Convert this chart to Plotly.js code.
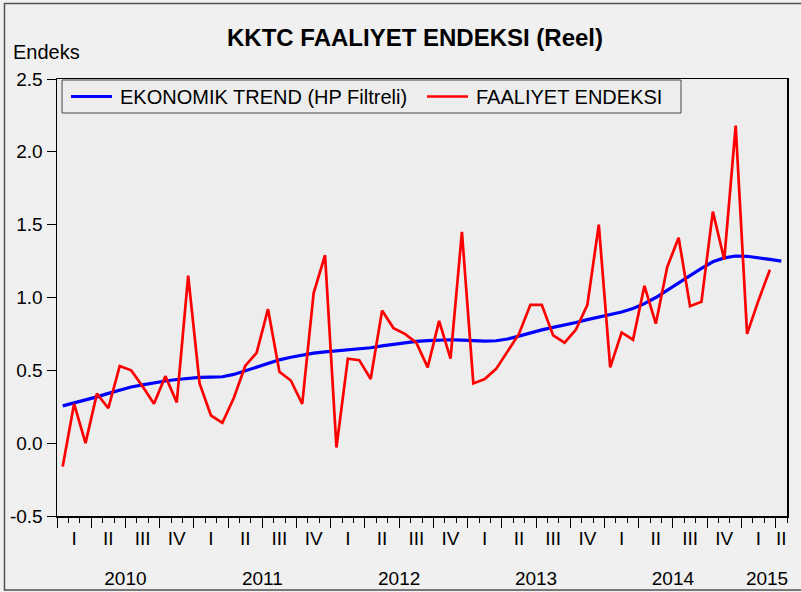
<!DOCTYPE html>
<html>
<head>
<meta charset="utf-8">
<script src="https://cdn.plot.ly/plotly-3.0.1.min.js"></script>
<style>
html,body{margin:0;padding:0;background:#f0f0f0;}
#chart{width:801px;height:592px;}
</style>
</head>
<body>
<div id="chart"></div>
<script>
// Monthly observations, Jan 2010 (index 0) ...
const monthIndex = Array.from({length: 64}, (_, i) => i);

const faaliyetEndeksi = [
  -0.16, 0.27, 0.00, 0.34, 0.24, 0.53, 0.50, 0.39, 0.27, 0.46, 0.28, 1.15,
   0.41, 0.19, 0.14, 0.31, 0.53, 0.62, 0.92, 0.49, 0.43, 0.27, 1.03, 1.29,
  -0.03, 0.58, 0.57, 0.44, 0.91, 0.79, 0.75, 0.69, 0.52, 0.84, 0.58, 1.45,
   0.41, 0.44, 0.51, 0.63, 0.75, 0.95, 0.95, 0.74, 0.69, 0.78, 0.95, 1.50,
   0.52, 0.76, 0.71, 1.08, 0.82, 1.21, 1.41, 0.94, 0.97, 1.59, 1.26, 2.18,
   0.75, 0.98, 1.19
];

const ekonomikTrend = [
  0.256, 0.275, 0.296, 0.318, 0.342, 0.365, 0.386, 0.400, 0.415, 0.427, 0.437, 0.446,
  0.451, 0.453, 0.456, 0.472, 0.498, 0.525, 0.550, 0.572, 0.590, 0.606, 0.618, 0.627,
  0.633, 0.638, 0.644, 0.655, 0.668, 0.680, 0.691, 0.699, 0.704, 0.708, 0.710, 0.708,
  0.703, 0.700, 0.703, 0.715, 0.735, 0.757, 0.778, 0.795, 0.810, 0.828, 0.848, 0.867,
  0.882, 0.900, 0.925, 0.958, 1.000, 1.048, 1.100, 1.150, 1.200, 1.245, 1.272, 1.285,
  1.283, 1.274, 1.262, 1.250
];

const seriesNames = ['EKONOMIK TREND (HP Filtreli)', 'FAALIYET ENDEKSI'];
const seriesColors = ['#0000ff', '#ff0000'];

const quarterPos = [1,4,7,10, 13,16,19,22, 25,28,31,34, 37,40,43,46, 49,52,55,58, 61,63];
const quarterLabels = ['I','II','III','IV','I','II','III','IV','I','II','III','IV',
                       'I','II','III','IV','I','II','III','IV','I','II'];
const yearPos = [5.5, 17.5, 29.5, 41.5, 53.5, 61.75];
const yearLabels = ['2010','2011','2012','2013','2014','2015'];

const yTickVals = [-0.5, 0.0, 0.5, 1.0, 1.5, 2.0, 2.5];
const yTickText = ['-0.5','0.0','0.5','1.0','1.5','2.0','2.5'];

const FONT = 'Arial, "Liberation Sans", sans-serif';

const traces = [
  {
    x: monthIndex.slice(0, ekonomikTrend.length), y: ekonomikTrend,
    type: 'scatter', mode: 'lines', name: seriesNames[0], showlegend: false,
    line: {color: seriesColors[0], width: 3.2}, hoverinfo: 'skip'
  },
  {
    x: monthIndex.slice(0, faaliyetEndeksi.length), y: faaliyetEndeksi,
    type: 'scatter', mode: 'lines', name: seriesNames[1], showlegend: false,
    line: {color: seriesColors[1], width: 2.7}, hoverinfo: 'skip'
  },
  {x: [], y: [], xaxis: 'x2', type: 'scatter', showlegend: false, hoverinfo: 'skip'},
  {x: [], y: [], xaxis: 'x3', type: 'scatter', showlegend: false, hoverinfo: 'skip'}
];

const L = 57, R = 14, T = 79, B = 76, W = 801, H = 592;
const pw = W - L - R, ph = H - T - B;
const px = v => (v - L) / pw;
const py = v => (H - B - v) / ph;

// hand-built legend (box, line samples, labels)
const legendShapes = [
  {type: 'rect', xref: 'paper', yref: 'paper', x0: px(62), x1: px(681), y0: py(113), y1: py(80),
   line: {color: '#444', width: 1}, fillcolor: '#ededed', layer: 'above'},
  {type: 'line', xref: 'paper', yref: 'paper', x0: px(71), x1: px(112), y0: py(96.5), y1: py(96.5),
   line: {color: seriesColors[0], width: 3.2}, layer: 'above'},
  {type: 'line', xref: 'paper', yref: 'paper', x0: px(427), x1: px(468), y0: py(96.5), y1: py(96.5),
   line: {color: seriesColors[1], width: 2.7}, layer: 'above'}
];
const legendTexts = [
  {text: seriesNames[0], xref: 'paper', yref: 'paper', x: px(118), xanchor: 'left',
   y: py(97), yanchor: 'middle', showarrow: false, font: {family: FONT, size: 20, color: '#000'}},
  {text: seriesNames[1], xref: 'paper', yref: 'paper', x: px(474), xanchor: 'left',
   y: py(97), yanchor: 'middle', showarrow: false, font: {family: FONT, size: 20, color: '#000'}}
];

const layout = {
  width: W, height: H,
  margin: {l: L, r: R, t: T, b: B, pad: 0},
  paper_bgcolor: '#f0f0f0',
  plot_bgcolor: '#ededed',
  font: {family: FONT, color: '#000', size: 18},
  title: {
    text: '<b>KKTC FAALIYET ENDEKSI (Reel)</b>',
    font: {family: FONT, size: 24, color: '#000'},
    x: 415 / W, xref: 'container', xanchor: 'center',
    y: 1 - 38 / H, yref: 'container', yanchor: 'middle'
  },
  showlegend: false,
  xaxis: {
    range: [-0.5, 63.5], fixedrange: true,
    tickmode: 'linear', tick0: -0.5, dtick: 3,
    ticks: 'outside', ticklen: 10, tickwidth: 1, tickcolor: '#000',
    showticklabels: false,
    minor: {tick0: -0.5, dtick: 1, ticks: 'outside', ticklen: 5, tickwidth: 1, tickcolor: '#000', showgrid: false},
    showline: true, linecolor: '#000', linewidth: 1.5, mirror: true,
    showgrid: false, zeroline: false
  },
  xaxis2: {
    overlaying: 'x', anchor: 'y', side: 'bottom',
    range: [-0.5, 63.5], fixedrange: true,
    tickmode: 'array', tickvals: quarterPos, ticktext: quarterLabels,
    ticks: '', ticklabelstandoff: 9,
    tickfont: {family: FONT, size: 19, color: '#000'},
    showline: false, showgrid: false, zeroline: false
  },
  xaxis3: {
    overlaying: 'x', anchor: 'y', side: 'bottom',
    range: [-0.5, 63.5], fixedrange: true,
    tickmode: 'array', tickvals: yearPos, ticktext: yearLabels,
    ticks: '', ticklabelstandoff: 49,
    tickfont: {family: FONT, size: 19, color: '#000'},
    showline: false, showgrid: false, zeroline: false
  },
  yaxis: {
    range: [-0.5, 2.5], fixedrange: true,
    tickmode: 'array', tickvals: yTickVals, ticktext: yTickText,
    ticks: 'outside', ticklen: 9, tickwidth: 1, tickcolor: '#000',
    tickfont: {family: FONT, size: 19, color: '#000'},
    showline: true, linecolor: '#000', linewidth: 1.5, mirror: true,
    showgrid: false, zeroline: false
  },
  annotations: [
    {
      text: 'Endeks', xref: 'paper', yref: 'paper',
      x: px(11), xanchor: 'left', y: py(52), yanchor: 'middle',
      showarrow: false, font: {family: FONT, size: 20, color: '#000'}
    }
  ].concat(legendTexts),
  shapes: [
    {
      type: 'rect', xref: 'paper', yref: 'paper',
      x0: px(4.5), x1: px(806), y0: py(590), y1: py(3.5),
      line: {color: '#505050', width: 1.5}, fillcolor: 'rgba(0,0,0,0)', layer: 'below'
    }
  ].concat(legendShapes)
};

Plotly.newPlot('chart', traces, layout, {staticPlot: true, displayModeBar: false});
</script>
</body>
</html>
